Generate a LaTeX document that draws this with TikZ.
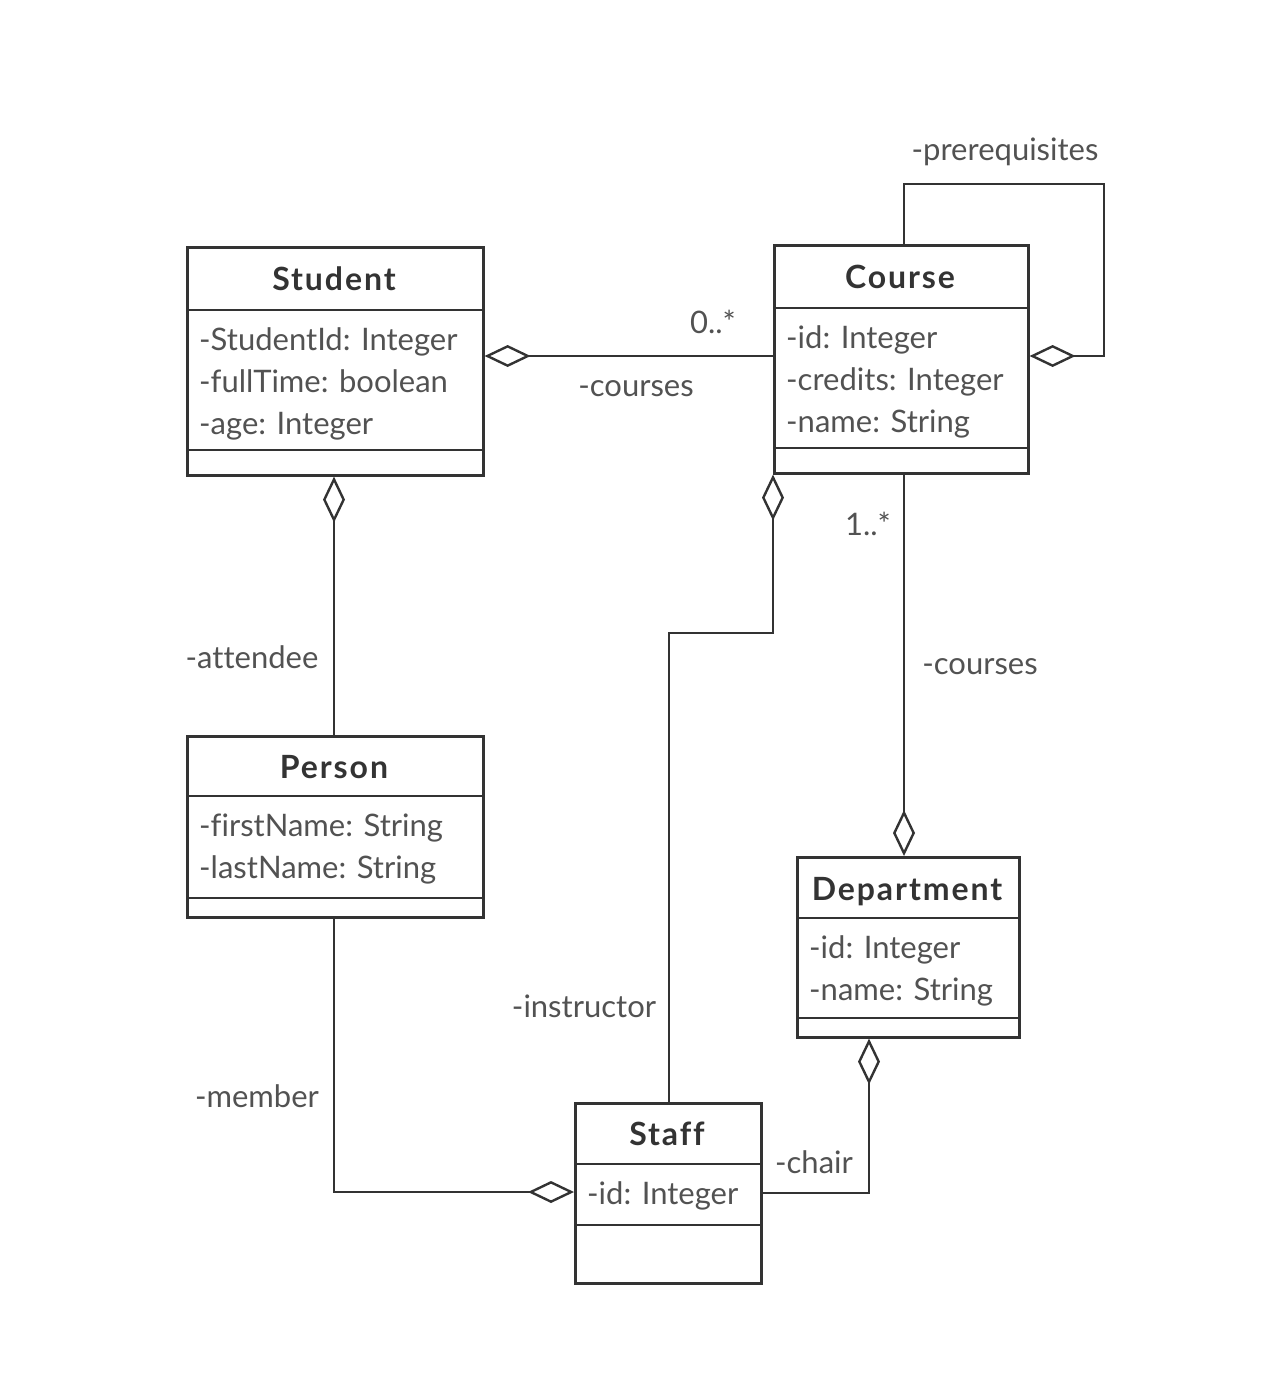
\documentclass[tikz,border=0pt]{standalone}
\usepackage{fontspec}
\setmainfont[Ligatures=NoCommon]{Lato}
\newfontfamily\titlefont[Ligatures=NoCommon, LetterSpace=6]{Lato Bold}
\usetikzlibrary{arrows.meta}
\definecolor{ink}{HTML}{333333}
\begin{document}
\begin{tikzpicture}[x=1pt,y=-1pt,
  box/.style={draw=ink, line width=2.6pt, fill=none, inner sep=0pt, anchor=north west},
  divider/.style={draw=ink, line width=2.6pt},
  title/.style={anchor=base, inner sep=0pt, text=ink, font=\titlefont\fontsize{32}{36}\selectfont},
  attr/.style={anchor=base west, inner sep=0pt, text=ink!85, font=\fontsize{31}{36}\selectfont},
  lbl/.style={anchor=base, inner sep=0pt, text=ink!85, font=\fontsize{31}{36}\selectfont},
  link/.style={draw=ink, line width=2.6pt},
  agg/.style={link, {Diamond[open, fill=white, length=46pt, width=22pt, line width=2.4pt]}-}
]
\useasboundingbox (0,0) rectangle (1280,1400);

% ---- Student ----
\node[box, minimum width=296pt, minimum height=228pt] (student) at (186,246) {};
\draw[divider] (186,310) -- (482,310);
\draw[divider] (186,450) -- (482,450);
\node[title] (studentT) at (334,290) {Student};
\node[attr] (studentA1) at (199,350) {-StudentId: Integer};
\node[attr] (studentA2) at (199,392) {-fullTime: boolean};
\node[attr] (studentA3) at (199,434) {-age: Integer};

% ---- Course ----
\node[box, minimum width=254pt, minimum height=228pt] (course) at (773,244) {};
\draw[divider] (773,308) -- (1027,308);
\draw[divider] (773,448) -- (1027,448);
\node[title] (courseT) at (900,288) {Course};
\node[attr] (courseA1) at (786,348) {-id: Integer};
\node[attr] (courseA2) at (786,390) {-credits: Integer};
\node[attr] (courseA3) at (786,432) {-name: String};

% ---- Person ----
\node[box, minimum width=296pt, minimum height=181pt] (person) at (186,735) {};
\draw[divider] (186,796) -- (482,796);
\draw[divider] (186,898) -- (482,898);
\node[title] (personT) at (334,778) {Person};
\node[attr] (personA1) at (199,836) {-firstName: String};
\node[attr] (personA2) at (199,878) {-lastName: String};

% ---- Department ----
\node[box, minimum width=222pt, minimum height=180pt] (dept) at (796,856) {};
\draw[divider] (796,918) -- (1018,918);
\draw[divider] (796,1018) -- (1018,1018);
\node[title] (deptT) at (907,900) {Department};
\node[attr] (deptA1) at (809,958) {-id: Integer};
\node[attr] (deptA2) at (809,1000) {-name: String};

% ---- Staff ----
\node[box, minimum width=186pt, minimum height=180pt] (staff) at (574,1102) {};
\draw[divider] (574,1164) -- (760,1164);
\draw[divider] (574,1225) -- (760,1225);
\node[title] (staffT) at (667,1145) {Staff};
\node[attr] (staffA1) at (587,1204) {-id: Integer};

% ---- Associations ----
% Student <>-- Course
\draw[agg] (student.north east |- 0,356) -- (course.north west |- 0,356);
\node[lbl] (l0n) at (713,333) {0..*};
\node[lbl] (lcourses1) at (636,396) {-courses};

% Course prerequisites (self association)
\coordinate (preA) at (904,184);
\coordinate (preB) at (1104,184);
\coordinate (preC) at (1104,356);
\draw[agg] (course.north east |- 0,356) -- (preC) -- (preB) -- (preA) -- (course.north west -| 904,0);
\node[lbl] (lprereq) at (1005,160) {-prerequisites};

% Student <>-- Person
\draw[agg] (student.south west -| 334,0) -- (person.north west -| 334,0);
\node[lbl] (lattendee) at (252,668) {-attendee};

% Course <>-- Staff (instructor)
\coordinate (insA) at (773,633);
\coordinate (insB) at (669,633);
\draw[agg] (course.south west) -- (insA) -- (insB) -- (staff.north west -| 669,0);
\node[lbl] (linstructor) at (584,1017) {-instructor};

% Department <>-- Course
\draw[agg] (dept.north west -| 904,0) -- (course.south west -| 904,0);
\node[lbl] (l1n) at (868,535) {1..*};
\node[lbl] (lcourses2) at (980,674) {-courses};

% Staff <>-- Person (member)
\coordinate (memA) at (334,1192);
\draw[agg] (staff.north west |- 0,1192) -- (memA) -- (person.south west -| 334,0);
\node[lbl] (lmember) at (257,1107) {-member};

% Department <>-- Staff (chair)
\coordinate (chA) at (869,1193);
\draw[agg] (dept.south west -| 869,0) -- (chA) -- (staff.north east |- 0,1193);
\node[lbl] (lchair) at (814,1173) {-chair};
\end{tikzpicture}
\end{document}
